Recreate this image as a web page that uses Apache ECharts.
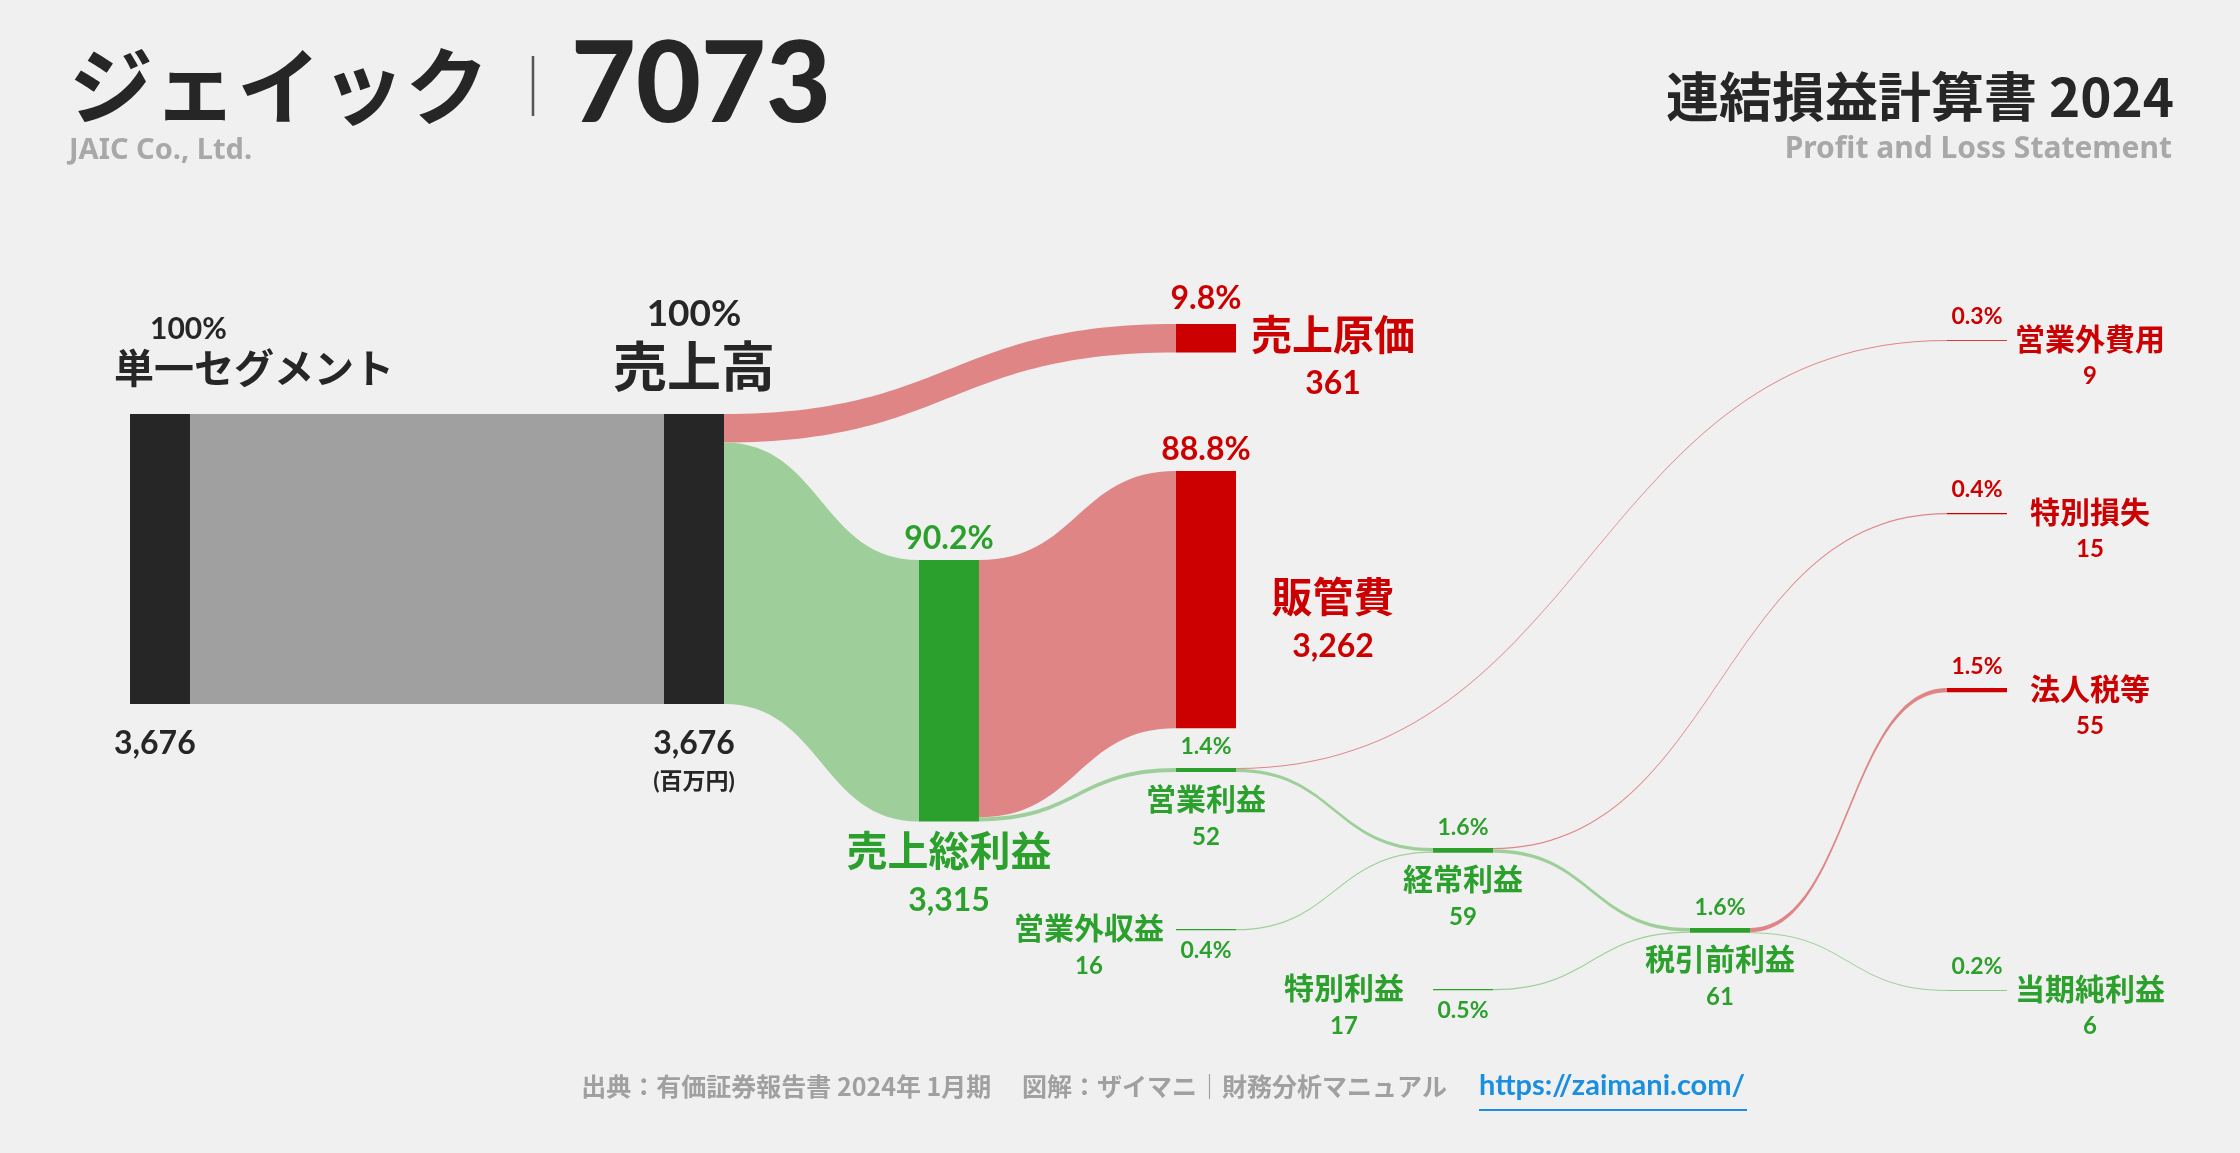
<!DOCTYPE html>
<html><head><meta charset="utf-8">
<script src="https://cdn.jsdelivr.net/npm/echarts@6/dist/echarts.min.js"></script>
<style>html,body{margin:0;padding:0;background:#f0f0f0}#c{width:2240px;height:1153px}</style>
</head><body><div id="c"></div>
<script>
const nodeNames = ['単一セグメント','営業外収益','特別利益','売上高','売上原価','売上総利益','販管費','営業利益','営業外費用','経常利益','特別損失','税引前利益','法人税等','当期純利益'];
const nodeValues = [3676,16,17,3676,361,3315,3262,52,9,59,15,61,55,6];
const nodePct = ['100%','0.4%','0.5%','100%','9.8%','90.2%','88.8%','1.4%','0.3%','1.6%','0.4%','1.6%','1.5%','0.2%'];
const nodeKind = ['dark','green','green','dark','red','green','red','green','red','green','red','green','red','green'];
const linkSource = ['単一セグメント','売上高','売上高','売上総利益','売上総利益','営業利益','営業利益','営業外収益','経常利益','経常利益','特別利益','税引前利益','税引前利益'];
const linkTarget = ['売上高','売上原価','売上総利益','販管費','営業利益','営業外費用','経常利益','経常利益','特別損失','税引前利益','税引前利益','法人税等','当期純利益'];
const linkValues = [3676,361,3315,3262,52,9,43,16,15,44,17,55,6];

const FONT = 'Lato, "Noto Sans CJK JP", sans-serif';
const COL = {dark:'#262626', red:'#cc0000', green:'#2ca02c'};
const LINK = {dark:'#a0a0a0', red:'#e08585', green:'#9ecf9a'};
const L = 130, T = 310, W = 1877, H = 700, KY = 290/3676, NW = 60;
const nodeX = {'単一セグメント':130,'営業外収益':1176,'特別利益':1433,'売上高':664,'売上原価':1176,'売上総利益':919,'販管費':1176,'営業利益':1176,'営業外費用':1947,'経常利益':1433,'特別損失':1947,'税引前利益':1690,'法人税等':1947,'当期純利益':1947};
const nodeTop = {'単一セグメント':414,'営業外収益':929,'特別利益':989,'売上高':414,'売上原価':324,'売上総利益':560,'販管費':471,'営業利益':768,'営業外費用':340,'経常利益':848,'特別損失':513,'税引前利益':928,'法人税等':688,'当期純利益':990};

function fmt(v){return v.toLocaleString('en-US');}
const pctGraphics = [];
function rich(c){
  const b = {fontFamily:FONT, fontWeight:'bold', color:c};
  return {
    p:{...b,fontSize:32,lineHeight:36},
    n:{...b,fontSize:41,lineHeight:44},
    v:{...b,fontSize:32,lineHeight:52},
    g:{fontSize:10},
    sp:{...b,fontSize:23,lineHeight:28},
    sn:{...b,fontSize:30,lineHeight:32},
    sv:{...b,fontSize:24,lineHeight:42},
    u:{...b,fontSize:23,lineHeight:40}
  };
}
function addPct(i, cx, cy, size){
  pctGraphics.push({type:'text', x:cx, y:cy, style:{text:nodePct[i], fontFamily:FONT, fontWeight:'bold',
    fontSize:size, fill:COL[nodeKind[i]], align:'center', verticalAlign:'middle'}});
}
function labelFor(i){
  const nm = nodeNames[i], v = fmt(nodeValues[i]), p = nodePct[i], c = COL[nodeKind[i]];
  const r = rich(c), x0 = nodeX[nm], top = nodeTop[nm], ctr = x0 + NW/2;
  const h = nodeValues[i]*KY, cy = top + h/2;
  let f, pos, align = 'center';
  if (nm === '単一セグメント') {
    r.p.fontSize=30; r.p.padding=[0,0,0,36]; r.n.fontSize=40; r.n.lineHeight=46; r.g.lineHeight=333; r.g.height=333; r.v.lineHeight=36;
    f = `{p|${p}}\n{n|${nm}}\n{g| }\n{v|${v}}`; pos=[-16,-103]; align='left';
  } else if (nm === '売上高') {
    r.p.fontSize=37; r.n.fontSize=54; r.n.lineHeight=76; r.g.lineHeight=318; r.g.height=318; r.v.lineHeight=36;
    f = `{p|${p}}\n{n|${nm}}\n{g| }\n{v|${v}}\n{u|(百万円)}`; pos=[NW/2,-118];
  } else if (nm === '売上原価') {
    r.n.lineHeight=46; r.v.lineHeight=48;
    f = `{n|${nm}}\n{v|${v}}`; pos=[1333-x0, 314-top]; addPct(i, ctr, 299, 32);
  } else if (nm === '販管費') {
    f = `{n|${nm}}\n{v|${v}}`; pos=[1333-x0, 577-top]; addPct(i, ctr, 450, 32);
  } else if (nm === '売上総利益') {
    r.g.lineHeight=274; r.g.height=274;
    f = `{p|${p}}\n{g| }\n{n|${nm}}\n{v|${v}}`; pos=[NW/2,-39];
  } else if (nm === '営業利益' || nm === '経常利益' || nm === '税引前利益') {
    r.g.lineHeight=23; r.g.height=23; r.sn.lineHeight=32;
    f = `{sp|${p}}\n{g| }\n{sn|${nm}}\n{sv|${v}}`; pos=[NW/2, (cy-37)-top];
  } else if (nm === '営業外収益' || nm === '特別利益') {
    const nx = nm==='営業外収益' ? 1089 : 1344;
    f = `{sn|${nm}}\n{sv|${v}}`; pos=[nx-x0, (cy-16)-top];
    addPct(i, ctr, cy+21, 23);
  } else {
    r.sv.lineHeight=40;
    f = `{sn|${nm}}\n{sv|${v}}`; pos=[2090-x0, (cy-16)-top];
    addPct(i, ctr, cy-24, 23);
  }
  return {show:true, position:pos, align, verticalAlign:'top', formatter:f, rich:r};
}
const data = nodeNames.map((nm,i)=>({
  name:nm, value:nodeValues[i],
  localX:(nodeX[nm]-L)/W, localY:(nodeTop[nm]-T)/H,
  itemStyle:{color:COL[nodeKind[i]], borderWidth:0},
  label:labelFor(i)
}));
data.push({name:'_pad', value:Math.round(H/KY) - 3676 - 16 - 17, localX:0.62, localY:0,
  itemStyle:{color:'rgba(0,0,0,0)'}, label:{show:false}});
const links = linkSource.map((s,i)=>{
  const k = nodeKind[nodeNames.indexOf(linkTarget[i])];
  const kind = (s==='単一セグメント') ? 'dark' : k;
  return {source:s, target:linkTarget[i], value:linkValues[i], lineStyle:{color:LINK[kind], opacity:1, curveness:0.5}};
});

const chart = echarts.init(document.getElementById('c'));
chart.setOption({
  backgroundColor:'#f0f0f0',
  animation:false,
  series:[{
    type:'sankey', left:L, top:T, width:W, height:H,
    nodeWidth:NW, nodeGap:0, layoutIterations:0, nodeAlign:'left',
    draggable:false, emphasis:{disabled:true},
    data, links
  }],
  graphic:[
    {type:'text', left:69, top:30, style:{text:'{a|ジェイック}{b|｜}{c|7073}', rich:{
      a:{fontFamily:'"Noto Sans CJK JP"',fontWeight:'bold',fontSize:84,fill:'#262626'},
      b:{fontFamily:'"Noto Sans CJK JP"',fontWeight:'normal',fontSize:60,fill:'#555',padding:[0,8,0,14]},
      c:{fontFamily:'Lato, "Noto Sans CJK JP"',fontWeight:'900',fontSize:112,fill:'#262626'}}}},
    {type:'text', left:69, top:136, style:{text:'JAIC Co., Ltd.', font:'bold 29px "Noto Sans"', fill:'#a8a8a8'}},
    {type:'text', right:66, top:70, style:{text:'連結損益計算書 2024', font:'bold 53px "Noto Sans CJK JP"', fill:'#262626', align:'right'}},
    {type:'text', right:68, top:134, style:{text:'Profit and Loss Statement', font:'bold 30px "Noto Sans"', fill:'#a8a8a8', align:'right'}},
    {type:'text', right:2240-1447, top:1074, style:{text:'出典：有価証券報告書 2024年 1月期　 図解：ザイマニ｜財務分析マニュアル', font:'bold 25px "Noto Sans CJK JP"', fill:'#a0a0a0', align:'right'}},
    {type:'text', left:1479, top:1071, style:{text:'https://zaimani.com/', font:'bold 29px Lato, "Noto Sans"', fill:'#1a8fe0'}},
    {type:'rect', left:1479, top:1109, shape:{width:268,height:2}, style:{fill:'#1a8fe0'}}
  ].concat(pctGraphics)
});
</script></body></html>
